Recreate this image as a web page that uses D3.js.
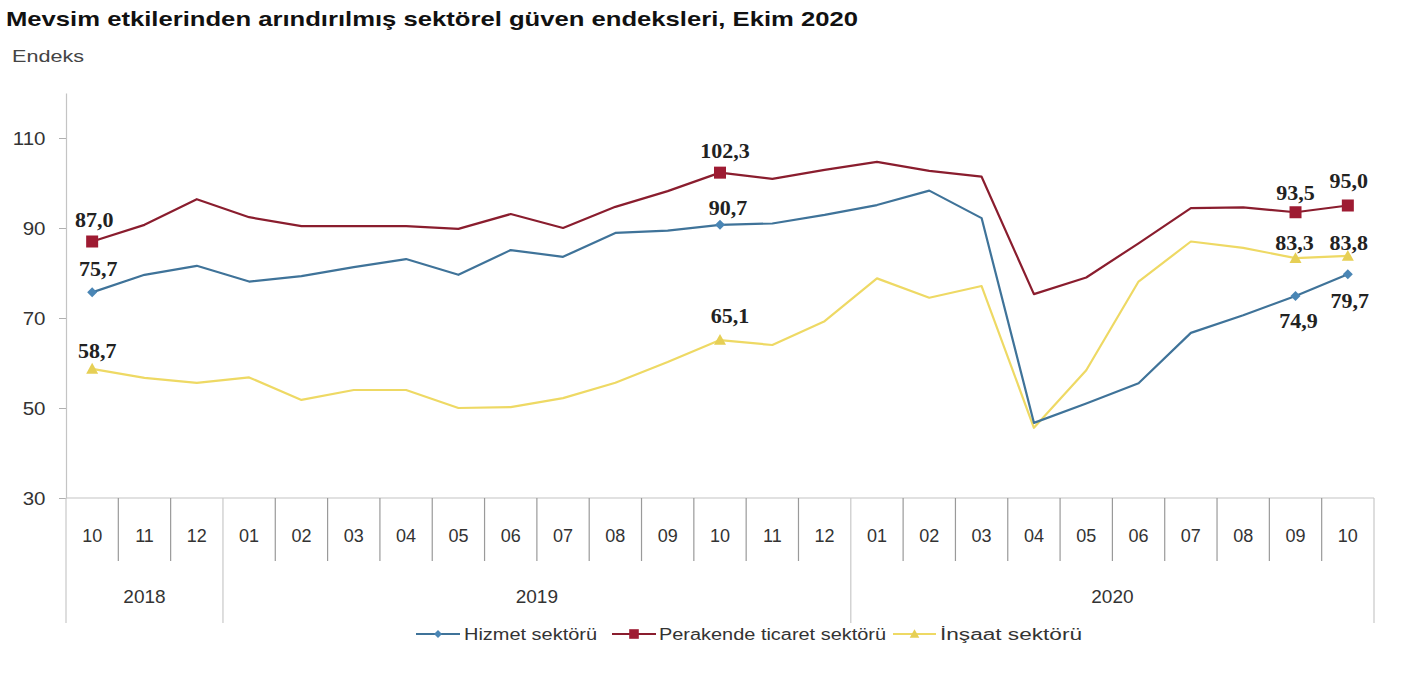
<!DOCTYPE html>
<html><head><meta charset="utf-8">
<script src="https://cdn.jsdelivr.net/npm/d3@7/dist/d3.min.js"></script>
<style>
html,body{margin:0;padding:0;background:#fff;}
svg{display:block;}
</style></head>
<body>
<svg id="c" width="1406" height="675"></svg>
<script>
const months = ["10","11","12","01","02","03","04","05","06","07","08","09","10","11","12","01","02","03","04","05","06","07","08","09","10"];
const years = [{label:"2018", start:0, end:3},{label:"2019", start:3, end:15},{label:"2020", start:15, end:25}];
const yTicks = [30,50,70,90,110];

const hizmet    = [75.7,79.6,81.6,78.1,79.3,81.3,83.1,79.6,85.1,83.6,88.9,89.4,90.7,91.0,92.9,95.1,98.3,92.2,46.7,51.0,55.5,66.7,70.6,74.9,79.7];
const perakende = [87.0,90.7,96.4,92.4,90.4,90.4,90.4,89.8,93.1,90.0,94.7,98.2,102.3,100.9,102.9,104.7,102.7,101.4,75.3,79.0,86.6,94.4,94.6,93.5,95.0];
const insaat    = [58.7,56.7,55.6,56.8,51.8,54.0,54.0,50.0,50.2,52.2,55.6,60.2,65.1,64.0,69.3,78.8,74.5,77.1,45.6,58.4,78.1,87.0,85.6,83.3,83.8];

const seriesNames = ["Hizmet sektörü","Perakende ticaret sektörü","İnşaat sektörü"];
const labelIdx = [0,12,23,24];

const svg = d3.select("#c");
const x = d3.scaleBand().domain(d3.range(months.length)).range([66,1374]).paddingInner(0).paddingOuter(0);
const y = d3.scaleLinear().domain([30,120]).range([498,93]);
const cx = i => x(i) + x.bandwidth()/2;

// title
svg.append("text").attr("x",6).attr("y",26)
  .attr("font-family","Liberation Sans, Arial, sans-serif").attr("font-weight","bold")
  .attr("font-size",21).attr("fill","#111")
  .attr("textLength",852).attr("lengthAdjust","spacingAndGlyphs")
  .text("Mevsim etkilerinden arındırılmış sektörel güven endeksleri, Ekim 2020");
svg.append("text").attr("x",12).attr("y",62)
  .attr("font-family","Liberation Sans, Arial, sans-serif")
  .attr("font-size",17).attr("fill","#444")
  .attr("textLength",72).attr("lengthAdjust","spacingAndGlyphs")
  .text("Endeks");

// y axis
const ya = svg.append("g").attr("transform","translate(66,0)")
  .call(d3.axisLeft(y).tickValues(yTicks).tickSize(7).tickSizeOuter(0).tickPadding(12));
ya.select(".domain").attr("stroke","#c4c4c4").attr("stroke-width",1.2);
ya.selectAll(".tick line").attr("stroke","#b0b0b0");
ya.selectAll(".tick text").attr("font-family","Liberation Sans, Arial, sans-serif")
  .attr("font-size",19).attr("fill","#333").attr("transform","scale(1.08,1)");

// x axis line
svg.append("line").attr("x1",66).attr("x2",1374).attr("y1",y(30)).attr("y2",y(30))
  .attr("stroke","#c4c4c4").attr("stroke-width",1.2);

// month separators
const yearBounds = new Set(years.map(d=>d.start).concat([months.length]));
const gx = svg.append("g");
d3.range(months.length+1).forEach(i=>{
  const xx = i<months.length ? x(i) : x(months.length-1)+x.bandwidth();
  const isYear = yearBounds.has(i);
  gx.append("line").attr("x1",xx).attr("x2",xx).attr("y1",y(30)).attr("y2",isYear?623:561)
    .attr("stroke", isYear ? "#c8c8c8" : "#9a9a9a").attr("stroke-width",1.2);
});
gx.selectAll(".m").data(months).join("text")
  .attr("x",(d,i)=>cx(i)).attr("y",542).attr("text-anchor","middle")
  .attr("font-family","Liberation Sans, Arial, sans-serif").attr("font-size",18).attr("fill","#333")
  .text(d=>d);
gx.selectAll(".yr").data(years).join("text")
  .attr("x",d=>(x(d.start) + (d.end<months.length?x(d.end):1374))/2).attr("y",603)
  .attr("text-anchor","middle")
  .attr("font-family","Liberation Sans, Arial, sans-serif").attr("font-size",19).attr("fill","#333")
  .text(d=>d.label);

const line = d3.line().x((d,i)=>cx(i)).y(d=>y(d));
const styles = [
  {data:hizmet, color:"#3f7399", mcol:"#4a86b5", marker:"diamond"},
  {data:perakende, color:"#8a1d2e", mcol:"#9e1b32", marker:"square"},
  {data:insaat, color:"#eed964", mcol:"#e6cf55", marker:"triangle"}
];

[2,0,1].forEach(k=>{
  const s = styles[k];
  svg.append("path").datum(s.data).attr("d",line).attr("fill","none")
    .attr("stroke",s.color).attr("stroke-width",2.2).attr("stroke-linejoin","round");
});

function marker(g, type, px, py, col, scale){
  scale = scale||1;
  if(type==="square"){
    const h=6*scale;
    g.append("rect").attr("x",px-h).attr("y",py-h).attr("width",2*h).attr("height",2*h).attr("fill",col);
  } else if(type==="diamond"){
    const h=5*scale;
    g.append("path").attr("d",`M${px},${py-h}L${px+h},${py}L${px},${py+h}L${px-h},${py}Z`).attr("fill",col);
  } else {
    const h=6*scale;
    g.append("path").attr("d",`M${px},${py-h}L${px+h},${py+h*0.8}L${px-h},${py+h*0.8}Z`).attr("fill",col);
  }
}

const mg = svg.append("g");
[2,0,1].forEach(k=>{
  const s = styles[k];
  labelIdx.forEach(i=>marker(mg, s.marker, cx(i), y(s.data[i]), s.mcol));
});

// data labels (offsets: [dx, dy baseline])
const offs = [
  {0:[6,-16],12:[8,-10],23:[3,32],24:[2,34]},
  {0:[2,-15],12:[5,-15],23:[0,-12],24:[1,-18]},
  {0:[5,-11],12:[10,-17],23:[-1,-8],24:[1,-6]}
];
const fmt = v => v.toFixed(1).replace(".",",");
const lg = svg.append("g");
styles.forEach((s,k)=>{
  labelIdx.forEach(i=>{
    const o = offs[k][i];
    lg.append("text").attr("x",cx(i)+o[0]).attr("y",y(s.data[i])+o[1])
      .attr("text-anchor","middle")
      .attr("font-family","Liberation Serif, Times New Roman, serif").attr("font-weight","bold")
      .attr("font-size",22).attr("fill","#222")
      .text(fmt(s.data[i]));
  });
});

// legend
const leg = [
  {x1:416,x2:460,tx:464,tw:133},
  {x1:612,x2:656,tx:659,tw:227},
  {x1:893,x2:936,tx:940,tw:142}
];
const lgy = 634;
const lgg = svg.append("g");
styles.forEach((s,k)=>{
  const L = leg[k];
  lgg.append("line").attr("x1",L.x1).attr("x2",L.x2).attr("y1",lgy).attr("y2",lgy)
    .attr("stroke",s.color).attr("stroke-width",2);
  marker(lgg, s.marker, (L.x1+L.x2)/2, lgy, s.mcol, 0.8);
  lgg.append("text").attr("x",L.tx).attr("y",lgy+6)
    .attr("font-family","Liberation Sans, Arial, sans-serif").attr("font-size",16).attr("fill","#333")
    .attr("textLength",L.tw).attr("lengthAdjust","spacingAndGlyphs")
    .text(seriesNames[k]);
});
</script>
</body></html>
